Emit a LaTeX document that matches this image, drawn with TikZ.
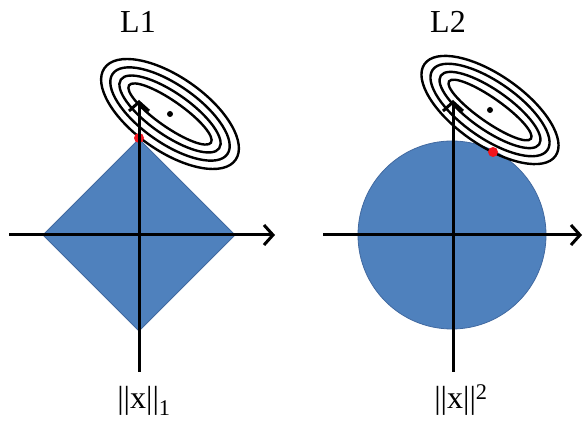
\documentclass[tikz,border=0pt]{standalone}
\usepackage{fontspec}
\setmainfont{Liberation Serif}
\usetikzlibrary{arrows.meta}
\definecolor{BallBlue}{RGB}{79,129,189}
\definecolor{BallEdge}{RGB}{65,105,160}
\definecolor{TouchRed}{RGB}{240,20,30}

\begin{document}
\begin{tikzpicture}[x=1pt,y=1pt,
    axis/.style={line width=3pt,-{Straight Barb[length=9pt,width=20pt,line width=3pt]}},
    contour/.style={line width=2.4pt},
    ball/.style={fill=BallBlue,draw=BallEdge,line width=0.8pt},
    label/.style={font=\fontsize{32}{38}\selectfont},
    normlabel/.style={font=\fontsize{32}{38}\selectfont,anchor=base}]
    \useasboundingbox (0,0) rectangle (583,422);
    % L1 panel
    \coordinate (oL) at (139,187);
    \coordinate (cL) at (170,308);
    \filldraw[ball] (139,283) -- (43,187) -- (139,91) -- (235,187) -- cycle;
    \foreach \a/\b in {50/13,60/21,70/29,80/37}
        \draw[contour,rotate around={-35:(cL)}] (cL) ellipse [x radius=\a, y radius=\b];
    \fill (cL) circle (3pt);
    \fill[TouchRed] (139,284) circle (5pt);
    \coordinate (xLa) at (9,187);
    \coordinate (xLb) at (275,187);
    \coordinate (yLa) at (139,50);
    \coordinate (yLb) at (139,322);
    \draw[axis] (xLa) -- (xLb);
    \draw[axis] (yLa) -- (yLb);
    \node[label] (titleL) at (138,400) {L1};
    \node[normlabel] (normL) at (144,13) {||x||\textsubscript{1}};
    % L2 panel
    \coordinate (oR) at (452,187);
    \coordinate (cR) at (490,312);
    \filldraw[ball] (oR) circle (94pt);
    \foreach \a/\b in {50/12,60/20,70/28,80/35}
        \draw[contour,rotate around={-35:(cR)}] (cR) ellipse [x radius=\a, y radius=\b];
    \fill (cR) circle (3pt);
    \fill[TouchRed] (493,270) circle (5pt);
    \coordinate (xRa) at (323,187);
    \coordinate (xRb) at (582,187);
    \coordinate (yRa) at (453,50);
    \coordinate (yRb) at (453,322);
    \draw[axis] (xRa) -- (xRb);
    \draw[axis] (yRa) -- (yRb);
    \node[label] (titleR) at (448,400) {L2};
    \node[normlabel] (normR) at (461,13) {||x||\textsuperscript{2}};
\end{tikzpicture}
\end{document}
